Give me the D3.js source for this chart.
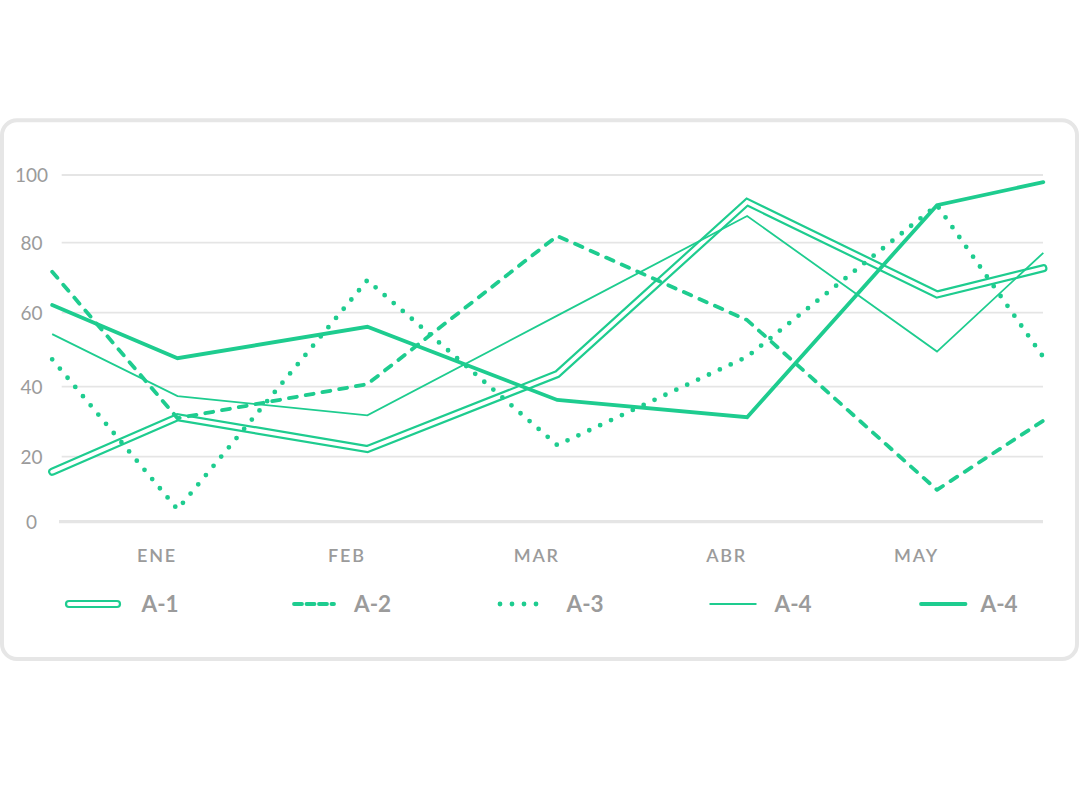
<!DOCTYPE html>
<html>
<head>
<meta charset="utf-8">
<script src="https://cdn.jsdelivr.net/npm/d3@7"></script>
<style>
  html, body { margin: 0; padding: 0; background: #ffffff; }
  svg { display: block; }
  text { font-family: Lato, "Open Sans", sans-serif; }
</style>
</head>
<body>
<svg id="chart" width="1080" height="800"></svg>
<script>
// ---- data ----
const months = ["ENE", "FEB", "MAR", "ABR", "MAY"];
// position of every data point in month units (first and last run off the edges)
const xSteps = [-0.66, 0, 1, 2, 3, 4, 4.56];
const yTicks = [0, 20, 40, 60, 80, 100];
const seriesA1 = [15.4, 31.3, 22.2, 43.4, 92, 65.2, 72.7];
const seriesA2 = [71.7, 31, 40.7, 82, 58, 9.8, 30.3];
const seriesA3 = [47.4, 3.8, 69.3, 23.3, 48.1, 91.1, 48];
const seriesA4thin = [54.2, 37.3, 31.8, 59.2, 87.9, 49.5, 77.1];
const seriesA4thick = [62.2, 47.7, 56.2, 36.2, 31.3, 91.1, 97.9];
const legendNames = ["A-1", "A-2", "A-3", "A-4", "A-4"];

// ---- styles ----
const green = "#1ecc8f";
const gray = "#9b9b9b";
const gridColor = "#e5e5e5";

const svg = d3.select("#chart");

// card
svg.append("rect")
  .attr("x", 2).attr("y", 120.3)
  .attr("width", 1075).attr("height", 538.7)
  .attr("rx", 15).attr("ry", 15)
  .attr("fill", "#fff")
  .attr("stroke", "#e6e6e6")
  .attr("stroke-width", 4);

// scales
const x = d3.scaleLinear().domain([0, 4]).range([177.5, 937]);
const y = d3.scaleLinear().domain(yTicks).range([521.7, 456.7, 386.7, 312.7, 242.7, 175]);

// grid
const grid = svg.append("g");
grid.selectAll("line").data(yTicks).join("line")
  .attr("x1", d => d === 0 ? 59 : 61.7)
  .attr("x2", 1043)
  .attr("y1", d => y(d)).attr("y2", d => y(d))
  .attr("stroke", gridColor)
  .attr("stroke-width", d => d === 0 ? 3.3 : 1.8);

// y labels
svg.append("g").selectAll("text").data(yTicks).join("text")
  .attr("x", 31.5)
  .attr("y", d => y(d))
  .attr("dy", "0.36em")
  .attr("text-anchor", "middle")
  .attr("font-size", 19)
  .attr("fill", gray)
  .text(d => d);

// x labels
svg.append("g").selectAll("text").data(months).join("text")
  .attr("x", (d, i) => x(i) - 20.5)
  .attr("y", 561.5)
  .attr("text-anchor", "middle")
  .attr("font-size", 18)
  .attr("font-weight", 600)
  .attr("letter-spacing", 1.8)
  .attr("fill", gray)
  .text(d => d);

const line = d3.line()
  .x((d, i) => x(xSteps[i]))
  .y(d => y(d));

const plot = svg.append("g");

// A-1 double line
plot.append("path").datum(seriesA1)
  .attr("d", line).attr("fill", "none")
  .attr("stroke", green).attr("stroke-width", 8.2)
  .attr("stroke-linecap", "round").attr("stroke-linejoin", "miter");
plot.append("path").datum(seriesA1)
  .attr("d", line).attr("fill", "none")
  .attr("stroke", "#fff").attr("stroke-width", 3.8)
  .attr("stroke-linecap", "round").attr("stroke-linejoin", "miter");

// A-2 dashed
plot.append("path").datum(seriesA2)
  .attr("d", line).attr("fill", "none")
  .attr("stroke", green).attr("stroke-width", 3.8)
  .attr("stroke-dasharray", "8,9")
  .attr("stroke-linecap", "round").attr("stroke-linejoin", "round");

// A-3 dotted
plot.append("path").datum(seriesA3)
  .attr("d", line).attr("fill", "none")
  .attr("stroke", green).attr("stroke-width", 4.8)
  .attr("stroke-dasharray", "0,12")
  .attr("stroke-linecap", "round").attr("stroke-linejoin", "round");

// A-4 thin
plot.append("path").datum(seriesA4thin)
  .attr("d", line).attr("fill", "none")
  .attr("stroke", green).attr("stroke-width", 1.8)
  .attr("stroke-linejoin", "miter");

// A-4 thick
plot.append("path").datum(seriesA4thick)
  .attr("d", line).attr("fill", "none")
  .attr("stroke", green).attr("stroke-width", 3.8)
  .attr("stroke-linecap", "round").attr("stroke-linejoin", "miter");

// ---- legend ----
const legendY = 604;
const legendLayout = [
  { x1: 69, x2: 117, tx: 141.5 },
  { x1: 294, x2: 334, tx: 354 },
  { x1: 500, x2: 537, tx: 566.5 },
  { x1: 709.5, x2: 756.5, tx: 774.5 },
  { x1: 921, x2: 965.5, tx: 980.5 }
];
const legendStyles = [
  [{ w: 8.2, c: green, cap: "round" }, { w: 3.8, c: "#fff", cap: "round" }],
  [{ w: 3.8, c: green, cap: "round", dash: "8,4.5" }],
  [{ w: 4.8, c: green, cap: "round", dash: "0,12" }],
  [{ w: 1.8, c: green, cap: "butt" }],
  [{ w: 3.8, c: green, cap: "round" }]
];
const lg = svg.append("g");
legendNames.forEach((name, i) => {
  const L = legendLayout[i];
  legendStyles[i].forEach(s => {
    lg.append("line")
      .attr("x1", L.x1).attr("x2", L.x2)
      .attr("y1", legendY).attr("y2", legendY)
      .attr("stroke", s.c).attr("stroke-width", s.w)
      .attr("stroke-linecap", s.cap)
      .attr("stroke-dasharray", s.dash || null);
  });
  lg.append("text")
    .attr("x", L.tx).attr("y", 612.3)
    .attr("font-size", 22.5)
    .attr("font-weight", 700)
    .attr("fill", gray)
    .text(name);
});
</script>
</body>
</html>
